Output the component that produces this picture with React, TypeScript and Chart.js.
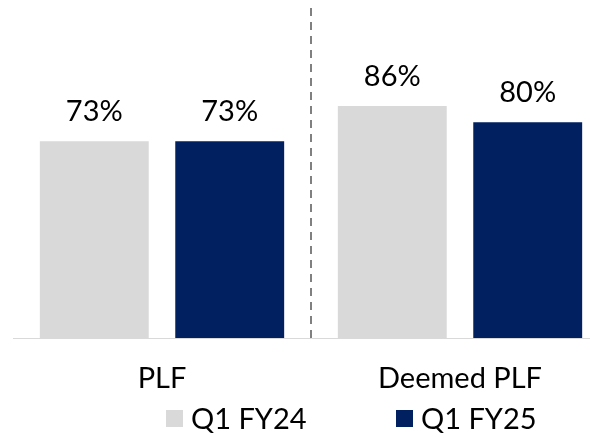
import React, { useEffect, useRef } from "react";
import { Chart, registerables } from "chart.js";

Chart.register(...registerables);

const categories = ["PLF", "Deemed PLF"];
const seriesNames = ["Q1 FY24", "Q1 FY25"];
const q1fy24 = [73, 86];
const q1fy25 = [73, 80];
const seriesColors = ["#d9d9d9", "#002060"];

const FONT = "Lato";
const FONT_SIZE = 29;

const dataLabelPlugin = {
  id: "dataLabels",
  afterDatasetsDraw(chart: any) {
    const ctx = chart.ctx;
    ctx.save();
    ctx.font = `${FONT_SIZE}px ${FONT}`;
    ctx.fillStyle = "#000000";
    ctx.textAlign = "center";
    ctx.textBaseline = "alphabetic";
    chart.data.datasets.forEach((ds: any, i: number) => {
      const meta = chart.getDatasetMeta(i);
      meta.data.forEach((el: any, j: number) => {
        ctx.fillText(`${ds.data[j]}%`, el.x, el.y - 20);
      });
    });
    ctx.restore();
  },
};

const separatorPlugin = {
  id: "separator",
  beforeDatasetsDraw(chart: any) {
    const ctx = chart.ctx;
    const xs = chart.scales.x;
    const x = (xs.getPixelForValue(0) + xs.getPixelForValue(1)) / 2;
    ctx.save();
    ctx.strokeStyle = "#808080";
    ctx.lineWidth = 2;
    ctx.setLineDash([8, 6]);
    ctx.beginPath();
    ctx.moveTo(x, 8);
    ctx.lineTo(x, chart.chartArea.bottom);
    ctx.stroke();
    ctx.restore();
  },
};

const legendPlugin = {
  id: "customLegend",
  afterDraw(chart: any) {
    const ctx = chart.ctx;
    ctx.save();
    ctx.font = `${FONT_SIZE}px ${FONT}`;
    ctx.textBaseline = "alphabetic";
    ctx.textAlign = "left";
    const box = 17;
    const gapText = 8;
    const startX = 166;
    const pitch = 230;
    const baseline = 429;
    chart.data.datasets.forEach((ds: any, i: number) => {
      const x = startX + i * pitch;
      ctx.fillStyle = ds.backgroundColor;
      ctx.fillRect(x, baseline - 19, box, box);
      ctx.fillStyle = "#000000";
      ctx.fillText(ds.label, x + box + gapText, baseline);
    });
    ctx.restore();
  },
};

export default function App() {
  const ref = useRef<HTMLCanvasElement>(null);
  useEffect(() => {
    if (!ref.current) return;
    const chart = new Chart(ref.current, {
      type: "bar",
      data: {
        labels: categories,
        datasets: [
          { label: seriesNames[0], data: q1fy24, backgroundColor: seriesColors[0] },
          { label: seriesNames[1], data: q1fy25, backgroundColor: seriesColors[1] },
        ],
      },
      options: {
        animation: false,
        responsive: false,
        layout: { padding: { left: 13, right: 11, top: 9, bottom: 40 } },
        datasets: {
          bar: { categoryPercentage: 0.909, barPercentage: 0.804 },
        },
        plugins: {
          legend: { display: false },
          tooltip: { enabled: false },
        },
        scales: {
          x: {
            grid: { display: false, drawTicks: false },
            border: { display: true, color: "#d9d9d9", width: 1 },
            ticks: {
              color: "#000000",
              font: { family: FONT, size: FONT_SIZE },
              padding: 23,
              maxRotation: 0,
            },
            afterFit: (scale: any) => {
              scale.height = 60;
            },
          },
          y: { display: false, min: 0, max: 122 },
        },
      },
      plugins: [separatorPlugin, dataLabelPlugin, legendPlugin],
    });
    return () => chart.destroy();
  }, []);
  return (
    <div
      style={{
        position: "fixed",
        left: 0,
        top: 0,
        width: 590,
        height: 438,
        overflow: "hidden",
        background: "#ffffff",
      }}
    >
      <canvas ref={ref} width={620} height={438} style={{ display: "block" }} />
    </div>
  );
}
